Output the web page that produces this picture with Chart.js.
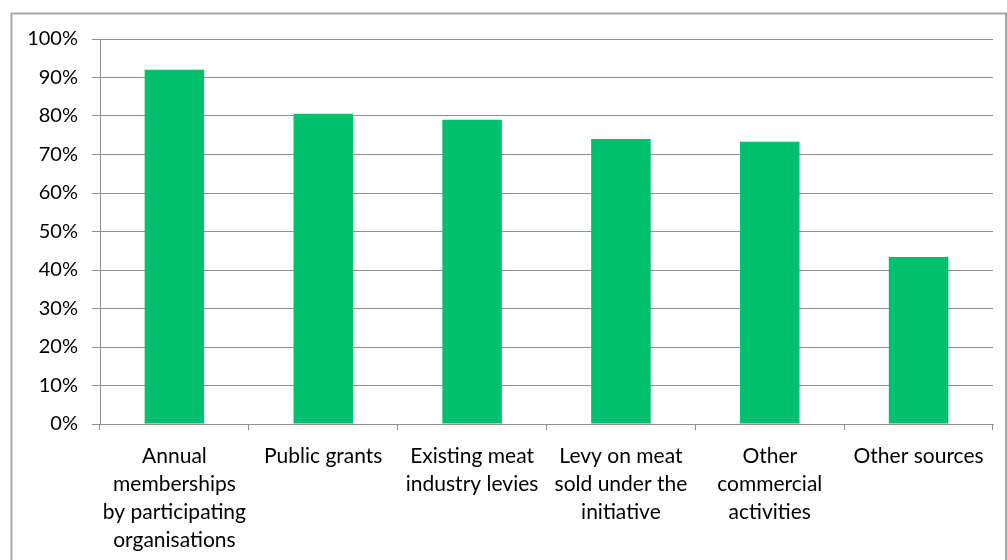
<!DOCTYPE html>
<html>
<head>
<meta charset="utf-8">
<script src="https://cdn.jsdelivr.net/npm/chart.js@4/dist/chart.umd.min.js"></script>
<style>
  html, body { margin: 0; padding: 0; background: #ffffff; }
  #wrap { width: 1007px; height: 560px; position: relative; }
</style>
</head>
<body>
<div id="wrap"><canvas id="c" width="1007" height="560"></canvas></div>
<script>
// Funding sources (share of respondents)
const categories = [
  ['Annual', 'memberships', 'by participating', 'organisations'],
  ['Public grants'],
  ['Existing meat', 'industry levies'],
  ['Levy on meat', 'sold under the', 'initiative'],
  ['Other', 'commercial', 'activities'],
  ['Other sources']
];
const shares = [92.0, 80.6, 79.0, 74.0, 73.3, 43.4];
const yTickLabels = ['0%', '10%', '20%', '30%', '40%', '50%', '60%', '70%', '80%', '90%', '100%'];

const FONT = 'Lato, "Open Sans", "DejaVu Sans", sans-serif';
const GRID = '#8f8f8f';

// light grey frame around the whole chart
const frame = {
  id: 'frame',
  afterDraw(chart) {
    const ctx = chart.ctx;
    ctx.save();
    ctx.strokeStyle = '#a9a9a9';
    ctx.lineWidth = 2;
    ctx.strokeRect(11.5, 13.5, 994.5, 560);
    ctx.restore();
  }
};

new Chart(document.getElementById('c'), {
  type: 'bar',
  data: {
    labels: categories,
    datasets: [{
      data: shares,
      backgroundColor: '#00bf6f',
      borderWidth: 0,
      categoryPercentage: 1.0,
      barPercentage: 0.4
    }]
  },
  options: {
    responsive: false,
    animation: false,
    layout: { padding: { left: 0, right: 14, top: 39, bottom: 0 } },
    plugins: { legend: { display: false }, tooltip: { enabled: false } },
    scales: {
      y: {
        min: 0, max: 100,
        ticks: {
          stepSize: 10,
          padding: 14,
          color: '#000000',
          font: { family: FONT, size: 20 },
          callback: (v, i) => yTickLabels[i]
        },
        grid: { color: GRID, lineWidth: 1, tickLength: 8, drawTicks: true },
        border: { color: GRID, width: 1 },
        afterFit: s => { s.width = 100; }
      },
      x: {
        ticks: {
          color: '#000000',
          padding: 12,
          maxRotation: 0,
          autoSkip: false,
          font: { family: FONT, size: 21, lineHeight: 1.333 }
        },
        grid: { drawOnChartArea: false, drawTicks: true, tickLength: 6, color: GRID, offset: true },
        border: { color: GRID, width: 1 },
        afterFit: s => { s.height = 136; }
      }
    }
  },
  plugins: [frame]
});
</script>
</body>
</html>
